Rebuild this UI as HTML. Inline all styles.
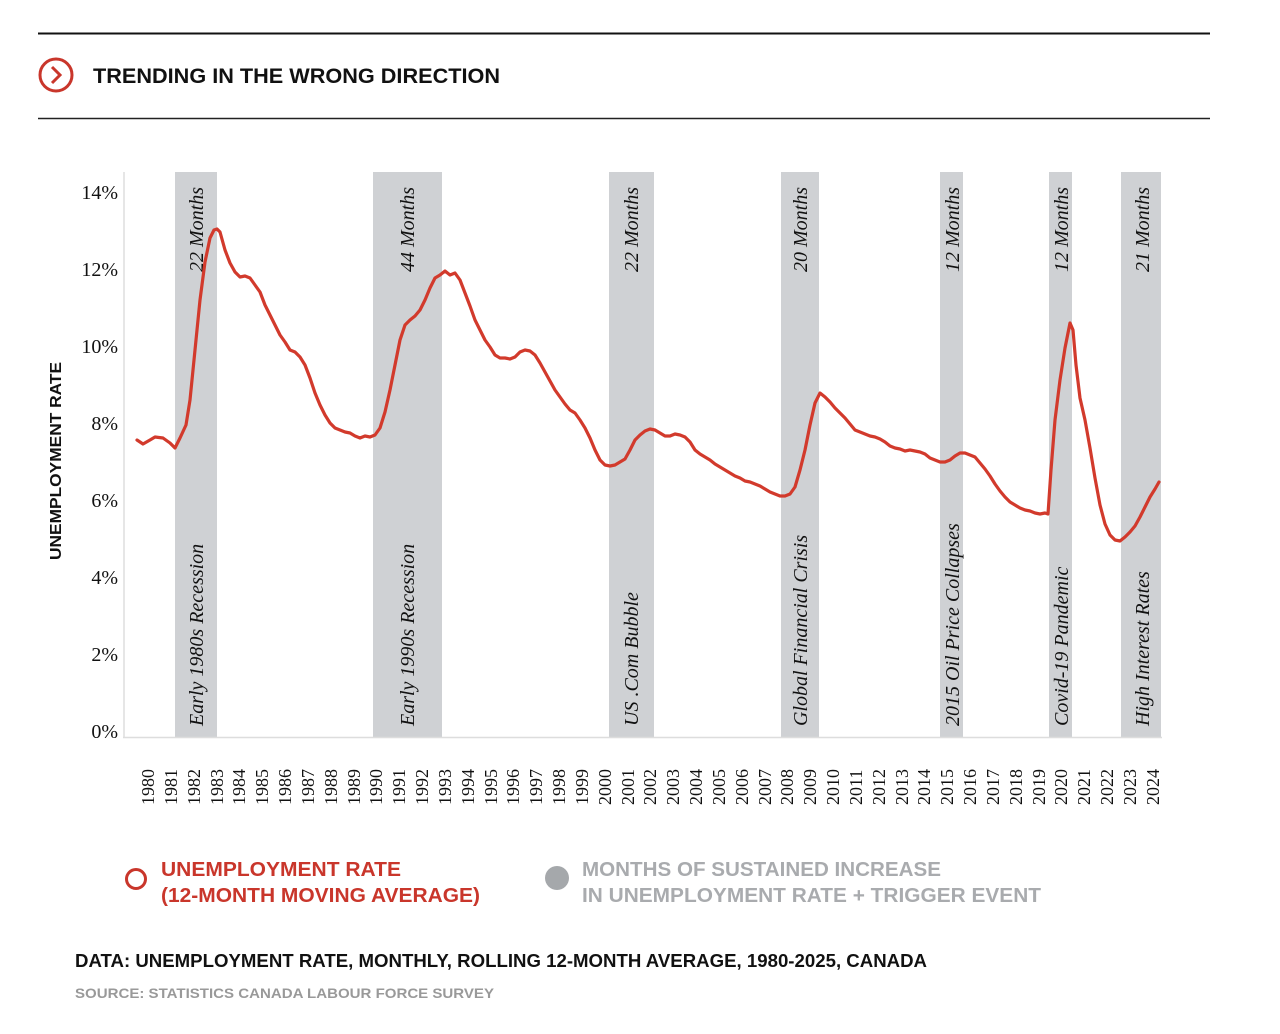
<!DOCTYPE html>
<html><head><meta charset="utf-8"><style>
html,body{margin:0;padding:0;background:#fff;}
svg{display:block;}
.s{font-family:"Liberation Sans",sans-serif;font-weight:bold;}
.serif{font-family:"Liberation Serif",serif;}
</style></head><body>
<svg width="1280" height="1034" viewBox="0 0 1280 1034" xmlns="http://www.w3.org/2000/svg">
<line x1="38" y1="33.5" x2="1210" y2="33.5" stroke="#111" stroke-width="2"/>
<line x1="38" y1="118.5" x2="1210" y2="118.5" stroke="#222" stroke-width="1.5"/>
<circle cx="56" cy="75" r="16" fill="none" stroke="#c9362b" stroke-width="3"/>
<polyline points="52,67 60,75 52,83" fill="none" stroke="#c9362b" stroke-width="3"/>
<text x="93" y="83" class="s" font-size="21" fill="#111" textLength="407" lengthAdjust="spacingAndGlyphs">TRENDING IN THE WRONG DIRECTION</text>

<g fill="#cfd1d4">
<rect x="175" y="172" width="42" height="565"/>
<rect x="373" y="172" width="69" height="565"/>
<rect x="609" y="172" width="45" height="565"/>
<rect x="781" y="172" width="38" height="565"/>
<rect x="940" y="172" width="23" height="565"/>
<rect x="1049" y="172" width="23" height="565"/>
<rect x="1121" y="172" width="40" height="565"/>
</g>
<line x1="124" y1="172" x2="124" y2="738" stroke="#ddd" stroke-width="1.5"/>
<line x1="123" y1="737.5" x2="1162" y2="737.5" stroke="#ddd" stroke-width="1.5"/>

<g class="serif" font-size="20" fill="#111" text-anchor="end">
<text x="118" y="199">14%</text>
<text x="118" y="276">12%</text>
<text x="118" y="353">10%</text>
<text x="118" y="430">8%</text>
<text x="118" y="507">6%</text>
<text x="118" y="584">4%</text>
<text x="118" y="661">2%</text>
<text x="118" y="738">0%</text>
</g>
<text transform="translate(61,461) rotate(-90)" text-anchor="middle" class="s" font-size="16" fill="#111" textLength="198" lengthAdjust="spacingAndGlyphs" style="font-weight:normal;font-weight:600">UNEMPLOYMENT RATE</text>

<g class="serif" font-size="20" font-style="italic" fill="#111">
<text transform="translate(203,187) rotate(-90)" text-anchor="end">22 Months</text>
<text transform="translate(414,187) rotate(-90)" text-anchor="end">44 Months</text>
<text transform="translate(638,187) rotate(-90)" text-anchor="end">22 Months</text>
<text transform="translate(807,187) rotate(-90)" text-anchor="end">20 Months</text>
<text transform="translate(959,187) rotate(-90)" text-anchor="end">12 Months</text>
<text transform="translate(1068,187) rotate(-90)" text-anchor="end">12 Months</text>
<text transform="translate(1149,187) rotate(-90)" text-anchor="end">21 Months</text>
<text transform="translate(203,726) rotate(-90)">Early 1980s Recession</text>
<text transform="translate(414,726) rotate(-90)">Early 1990s Recession</text>
<text transform="translate(638,726) rotate(-90)">US .Com Bubble</text>
<text transform="translate(807,726) rotate(-90)">Global Financial Crisis</text>
<text transform="translate(959,726) rotate(-90)">2015 Oil Price Collapses</text>
<text transform="translate(1068,726) rotate(-90)">Covid-19 Pandemic</text>
<text transform="translate(1149,726) rotate(-90)">High Interest Rates</text>
</g>

<polyline fill="none" stroke="#d23a2c" stroke-width="3.2" stroke-linejoin="round" stroke-linecap="round" points="137,440 143,444 150,440 155,437 163,438 170,443 175,448 180,438 186,425 190,400 195,350 200,300 205,262 210,238 214,230 217,229 220,232 225,250 230,263 235,272 240,277 245,276 250,278 255,285 260,292 265,305 270,315 275,325 280,335 285,342 290,350 295,352 300,357 305,365 310,378 315,393 320,405 325,415 330,423 335,428 340,430 345,432 350,433 355,436 360,438 365,436 370,437 375,435 380,428 385,412 390,390 395,365 400,340 405,325 410,320 415,316 420,310 425,300 430,288 435,278 440,275 445,271 450,275 455,273 460,280 465,293 470,306 475,320 480,330 485,340 490,347 495,355 500,358 505,358 510,359 515,357 520,352 525,350 530,351 535,355 540,363 545,372 550,381 555,390 560,397 565,404 570,410 575,413 580,420 585,428 590,438 595,450 600,460 605,465 610,466 615,465 620,462 625,459 630,450 635,440 640,435 645,431 650,429 655,430 660,433 665,436 670,436 675,434 680,435 685,437 690,442 695,450 700,454 705,457 710,460 715,464 720,467 725,470 730,473 735,476 740,478 745,481 750,482 755,484 760,486 765,489 770,492 775,494 780,496 785,496 790,494 795,487 800,470 805,450 810,425 815,403 820,393 825,397 830,402 835,408 840,413 845,418 850,424 855,430 860,432 865,434 870,436 875,437 880,439 885,442 890,446 895,448 900,449 905,451 910,450 915,451 920,452 925,454 930,458 935,460 940,462 945,462 950,460 955,456 960,453 965,453 970,455 975,457 980,463 985,469 990,476 995,484 1000,491 1005,497 1010,502 1015,505 1020,508 1025,510 1030,511 1035,513 1040,514 1045,513 1048,514 1051,470 1055,420 1060,380 1065,348 1070,323 1073,330 1076,365 1080,398 1085,420 1090,448 1095,478 1100,505 1105,524 1110,535 1115,540 1120,541 1125,537 1130,532 1135,526 1140,517 1145,507 1150,497 1155,489 1159,482"/>

<g class="serif" font-size="18" fill="#111">
<text transform="translate(154,805) rotate(-90)">1980</text>
<text transform="translate(177,805) rotate(-90)">1981</text>
<text transform="translate(200,805) rotate(-90)">1982</text>
<text transform="translate(223,805) rotate(-90)">1983</text>
<text transform="translate(245,805) rotate(-90)">1984</text>
<text transform="translate(268,805) rotate(-90)">1985</text>
<text transform="translate(291,805) rotate(-90)">1986</text>
<text transform="translate(314,805) rotate(-90)">1987</text>
<text transform="translate(337,805) rotate(-90)">1988</text>
<text transform="translate(360,805) rotate(-90)">1989</text>
<text transform="translate(382,805) rotate(-90)">1990</text>
<text transform="translate(405,805) rotate(-90)">1991</text>
<text transform="translate(428,805) rotate(-90)">1992</text>
<text transform="translate(451,805) rotate(-90)">1993</text>
<text transform="translate(474,805) rotate(-90)">1994</text>
<text transform="translate(497,805) rotate(-90)">1995</text>
<text transform="translate(519,805) rotate(-90)">1996</text>
<text transform="translate(542,805) rotate(-90)">1997</text>
<text transform="translate(565,805) rotate(-90)">1998</text>
<text transform="translate(588,805) rotate(-90)">1999</text>
<text transform="translate(611,805) rotate(-90)">2000</text>
<text transform="translate(634,805) rotate(-90)">2001</text>
<text transform="translate(656,805) rotate(-90)">2002</text>
<text transform="translate(679,805) rotate(-90)">2003</text>
<text transform="translate(702,805) rotate(-90)">2004</text>
<text transform="translate(725,805) rotate(-90)">2005</text>
<text transform="translate(748,805) rotate(-90)">2006</text>
<text transform="translate(771,805) rotate(-90)">2007</text>
<text transform="translate(793,805) rotate(-90)">2008</text>
<text transform="translate(816,805) rotate(-90)">2009</text>
<text transform="translate(839,805) rotate(-90)">2010</text>
<text transform="translate(862,805) rotate(-90)">2011</text>
<text transform="translate(885,805) rotate(-90)">2012</text>
<text transform="translate(908,805) rotate(-90)">2013</text>
<text transform="translate(930,805) rotate(-90)">2014</text>
<text transform="translate(953,805) rotate(-90)">2015</text>
<text transform="translate(976,805) rotate(-90)">2016</text>
<text transform="translate(999,805) rotate(-90)">2017</text>
<text transform="translate(1022,805) rotate(-90)">2018</text>
<text transform="translate(1045,805) rotate(-90)">2019</text>
<text transform="translate(1067,805) rotate(-90)">2020</text>
<text transform="translate(1090,805) rotate(-90)">2021</text>
<text transform="translate(1113,805) rotate(-90)">2022</text>
<text transform="translate(1136,805) rotate(-90)">2023</text>
<text transform="translate(1159,805) rotate(-90)">2024</text>
</g>

<circle cx="136" cy="879" r="9.5" fill="none" stroke="#c9362b" stroke-width="3"/>
<text x="161" y="876" class="s" font-size="20" fill="#c9362b" textLength="240" lengthAdjust="spacingAndGlyphs">UNEMPLOYMENT RATE</text>
<text x="161" y="902" class="s" font-size="20" fill="#c9362b" textLength="319" lengthAdjust="spacingAndGlyphs">(12-MONTH MOVING AVERAGE)</text>
<circle cx="557" cy="878" r="12" fill="#a5a8ab"/>
<text x="582" y="876" class="s" font-size="20" fill="#a9abae" textLength="359" lengthAdjust="spacingAndGlyphs">MONTHS OF SUSTAINED INCREASE</text>
<text x="582" y="902" class="s" font-size="20" fill="#a9abae" textLength="459" lengthAdjust="spacingAndGlyphs">IN UNEMPLOYMENT RATE + TRIGGER EVENT</text>

<text x="75" y="967" class="s" font-size="18" fill="#111" textLength="852" lengthAdjust="spacingAndGlyphs">DATA: UNEMPLOYMENT RATE, MONTHLY, ROLLING 12-MONTH AVERAGE, 1980-2025, CANADA</text>
<text x="75" y="998" class="s" font-size="14" fill="#999" textLength="419" lengthAdjust="spacingAndGlyphs">SOURCE: STATISTICS CANADA LABOUR FORCE SURVEY</text>
</svg>
</body></html>
